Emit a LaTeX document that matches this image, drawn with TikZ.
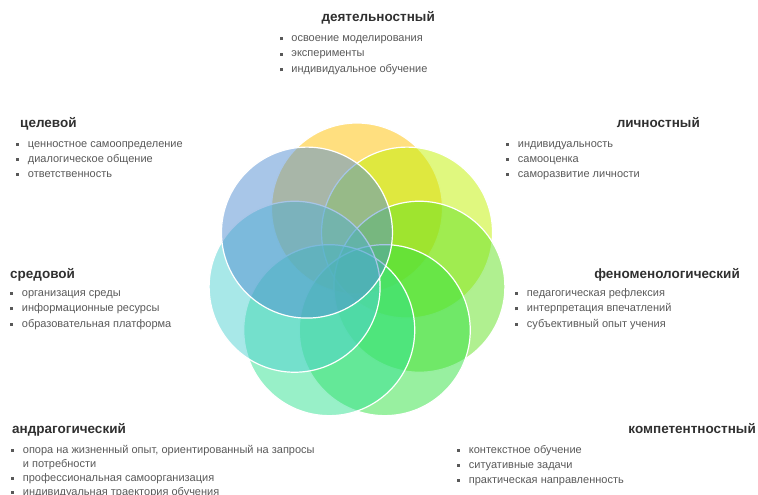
\documentclass[tikz,border=0pt]{standalone}
\usepackage{fontspec}
\setmainfont{Liberation Sans}
\definecolor{cOrange}{HTML}{FFC000}
\definecolor{cYellow}{HTML}{C1F100}
\definecolor{cLime}{HTML}{61E121}
\definecolor{cGreen}{HTML}{31E141}
\definecolor{cMint}{HTML}{31E191}
\definecolor{cCyan}{HTML}{51D1D1}
\definecolor{cBlue}{HTML}{518DD1}
\definecolor{txtc}{HTML}{595959}
\definecolor{ttlc}{HTML}{303030}
\newcommand\bul{\textcolor{txtc}{\rule[1.2pt]{3.2pt}{3.2pt}}\hspace{8.5pt}}
\tikzset{
  petal/.style={circle, minimum size=171pt, inner sep=0pt, fill opacity=0.5, draw=white, line width=1.2pt},
  ttl/.style={inner sep=0pt, font=\fontsize{13.5}{15}\selectfont\bfseries, text=ttlc},
  itm/.style={inner sep=0pt, font=\fontsize{11}{13}\selectfont, text=txtc, anchor=base west},
}
\begin{document}
\begin{tikzpicture}[x=1pt,y=1pt]
\useasboundingbox (0,0) rectangle (758,-495);
\clip (0,0) rectangle (758,-495);
\begin{scope}[shift={(357,-272.5)}]
\node[petal, fill=cOrange] (p1) at (90:64) {};
\node[petal, fill=cYellow] (p2) at (38.57:64) {};
\node[petal, fill=cLime] (p3) at (-12.86:64) {};
\node[petal, fill=cGreen] (p4) at (-64.29:64) {};
\node[petal, fill=cMint] (p5) at (-115.71:64) {};
\node[petal, fill=cCyan] (p6) at (-167.14:64) {};
\node[petal, fill=cBlue] (p7) at (141.43:64) {};
\end{scope}
% top
\node[ttl, anchor=base east] (t1) at (435,-22) {деятельностный};
\node[itm] (t1a) at (279.5,-41.5) {\bul освоение моделирования};
\node[itm] (t1b) at (279.5,-57) {\bul эксперименты};
\node[itm] (t1c) at (279.5,-72.5) {\bul индивидуальное обучение};
% top-left
\node[ttl, anchor=base west] (t2) at (20,-128) {целевой};
\node[itm] (t2a) at (16,-147) {\bul ценностное самоопределение};
\node[itm] (t2b) at (16,-162) {\bul диалогическое общение};
\node[itm] (t2c) at (16,-177) {\bul ответственность};
% top-right
\node[ttl, anchor=base east] (t3) at (700,-128) {личностный};
\node[itm] (t3a) at (506,-147) {\bul индивидуальность};
\node[itm] (t3b) at (506,-162) {\bul самооценка};
\node[itm] (t3c) at (506,-177) {\bul саморазвитие личности};
% left
\node[ttl, anchor=base west] (t4) at (10,-278) {средовой};
\node[itm] (t4a) at (10,-296) {\bul организация среды};
\node[itm] (t4b) at (10,-311.5) {\bul информационные ресурсы};
\node[itm] (t4c) at (10,-327) {\bul образовательная платформа};
% right
\node[ttl, anchor=base east] (t5) at (740,-278) {феноменологический};
\node[itm] (t5a) at (515,-296) {\bul педагогическая рефлексия};
\node[itm] (t5b) at (515,-311.5) {\bul интерпретация впечатлений};
\node[itm] (t5c) at (515,-327) {\bul субъективный опыт учения};
% bottom-left
\node[ttl, anchor=base west] (t6) at (12,-433) {андрагогический};
\node[itm] (t6a) at (11,-453) {\bul опора на жизненный опыт, ориентированный на запросы};
\node[itm] (t6a2) at (22.7,-467) {и потребности};
\node[itm] (t6b) at (11,-481) {\bul профессиональная самоорганизация};
\node[itm] (t6c) at (11,-495) {\bul индивидуальная траектория обучения};
% bottom-right
\node[ttl, anchor=base east] (t7) at (756,-433) {компетентностный};
\node[itm] (t7a) at (457,-453) {\bul контекстное обучение};
\node[itm] (t7b) at (457,-468) {\bul ситуативные задачи};
\node[itm] (t7c) at (457,-483) {\bul практическая направленность};
\end{tikzpicture}
\end{document}
